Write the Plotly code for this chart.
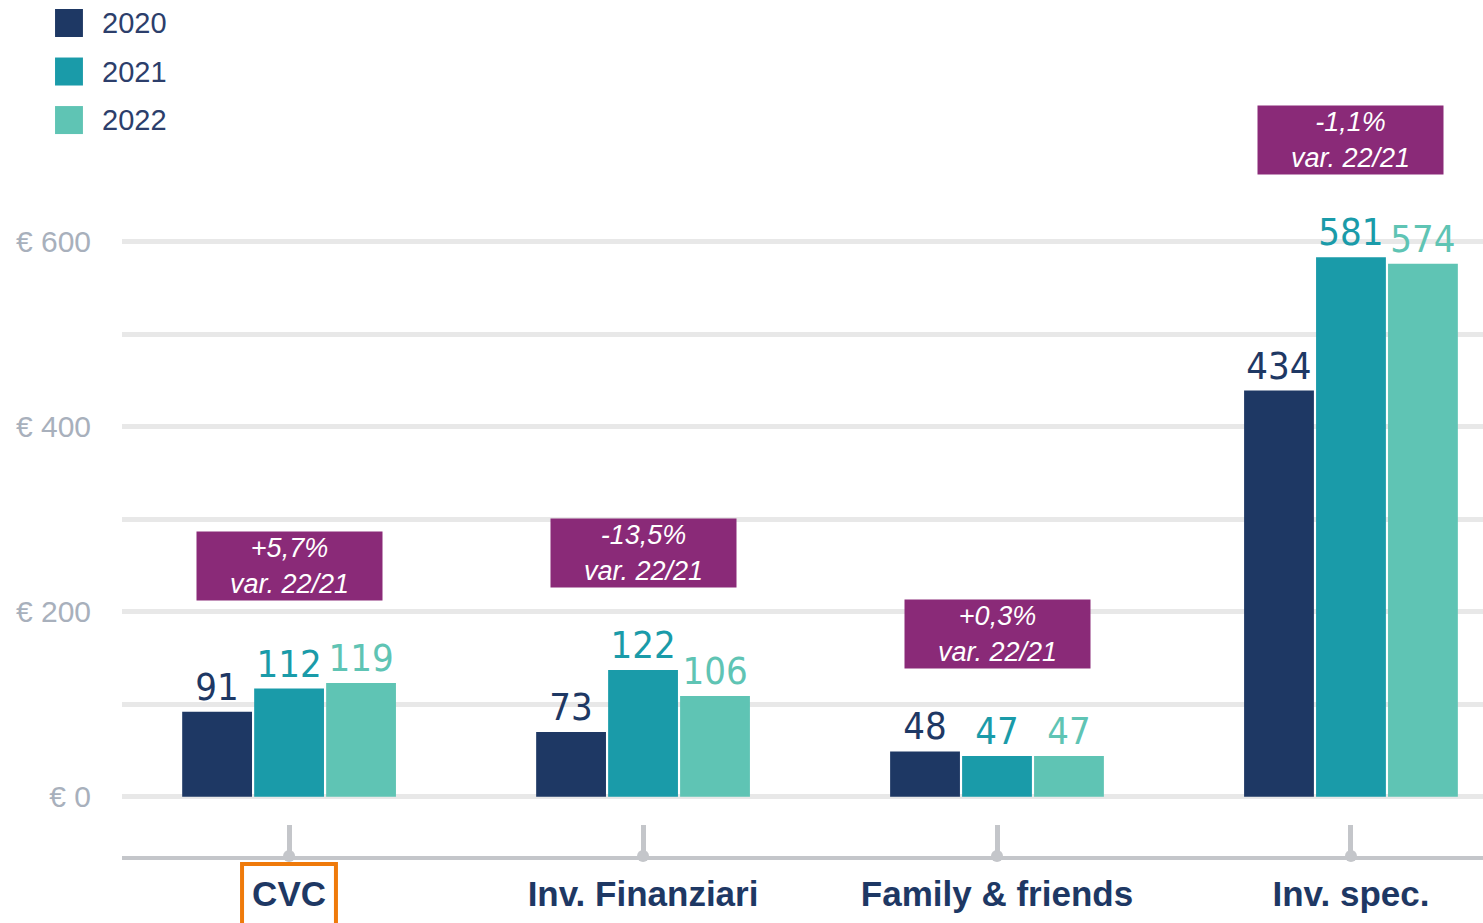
import plotly.graph_objects as go

categories = ['CVC', 'Inv. Finanziari', 'Family & friends', 'Inv. spec.']
years = ['2020', '2021', '2022']

# bar heights (labels printed on the chart below)
values_2020 = [92, 70, 49, 439]
values_2021 = [117, 137, 44, 583]
values_2022 = [123, 109, 44, 576]
labels_2020 = ['91', '73', '48', '434']
labels_2021 = ['112', '122', '47', '581']
labels_2022 = ['119', '106', '47', '574']
var_labels = ['+5,7%', '-13,5%', '+0,3%', '-1,1%']

y_ticks = [0, 100, 200, 300, 400, 500, 600]
y_ticktext = ['€ 0', '', '€ 200', '', '€ 400', '', '€ 600']

colors = ['#1e3864', '#1a9ba9', '#5fc4b4']
label_colors = ['#1e3864', '#1a9ba9', '#5fc4b4']
purple = '#8a2a78'
grid_color = '#e8e8e8'
axis_color = '#c4c6ca'

series = [values_2020, values_2021, values_2022]
series_labels = [labels_2020, labels_2021, labels_2022]
y_min, y_max = -64, 861

fig = go.Figure()

for year, vals, labs, col, lcol in zip(years, series, series_labels, colors, label_colors):
    fig.add_trace(go.Bar(
        x=categories,
        y=vals,
        name=year,
        marker=dict(color=col, line=dict(width=0)),
        text=labs,
        textposition='outside',
        textfont=dict(family='Liberation Sans Narrow, DejaVu Sans Condensed, sans-serif',
                      size=38, color=lcol),
        cliponaxis=False,
        showlegend=False,
        hoverinfo='skip'
    ))

# little dots at the base of each category tick
fig.add_trace(go.Scatter(
    x=categories, y=[y_min] * len(categories), mode='markers',
    marker=dict(color=axis_color, size=12), cliponaxis=False,
    showlegend=False, hoverinfo='skip'
))
fig.add_trace(go.Scatter(
    x=categories, y=[y_min] * len(categories), mode='markers',
    marker=dict(color=colors[0], size=4), cliponaxis=False,
    showlegend=False, hoverinfo='skip'
))

# purple "var. 22/21" boxes above each group
for cat, pct, a, b, c in zip(categories, var_labels, values_2020, values_2021, values_2022):
    fig.add_annotation(
        x=cat, y=max(a, b, c), yanchor='bottom', yshift=82,
        text=f'<i>{pct}<br>var. 22/21</i>', showarrow=False,
        font=dict(family='Liberation Sans, Arial, sans-serif', size=27, color='white'),
        bgcolor=purple, width=185, height=68, borderpad=0, align='center'
    )

# legend drawn by hand so the swatches can be large squares
for i, (year, col) in enumerate(zip(years, colors)):
    top = 0.9895 - i * 0.0567
    fig.add_shape(type='rect', xref='paper', yref='paper',
                  x0=-0.0492, x1=-0.0287, y0=top - 0.0327, y1=top,
                  fillcolor=col, line=dict(width=0))
    fig.add_annotation(xref='paper', yref='paper', x=-0.0162, y=top - 0.0164,
                       xanchor='left', yanchor='middle', text=year, showarrow=False,
                       font=dict(family='Liberation Sans, Arial, sans-serif', size=29, color='#2c3e6b'))

# orange highlight round the CVC label
fig.add_shape(type='rect', xref='paper', yref='paper',
              x0=0.0882, x1=0.1572, y0=-0.0093, y1=-0.09,
              line=dict(color='#ef7a0a', width=4))

fig.update_layout(
    width=1483, height=923,
    margin=dict(l=122, r=0, t=0, b=67),
    paper_bgcolor='white', plot_bgcolor='white',
    barmode='group', bargap=0.39, bargroupgap=0.03,
    xaxis=dict(
        range=[-0.472, 3.373],
        showgrid=False, zeroline=False,
        showline=True, linecolor=axis_color, linewidth=4,
        ticks='inside', ticklen=31, tickwidth=5, tickcolor=axis_color,
        ticklabelstandoff=4,
        tickfont=dict(family='Liberation Sans, Arial, sans-serif', size=35, color='#1e3864',
                      weight='bold'),
    ),
    yaxis=dict(
        range=[y_min, y_max],
        tickvals=y_ticks, ticktext=y_ticktext,
        showgrid=True, gridcolor=grid_color, gridwidth=5,
        zeroline=False, showline=False, ticks='',
        ticklabelstandoff=30,
        tickfont=dict(family='Liberation Sans, Arial, sans-serif', size=30, color='#a8b0bc'),
    ),
)

fig.write_html("out.html", config={'displayModeBar': False},
               post_script="document.body.style.margin='0px';")
